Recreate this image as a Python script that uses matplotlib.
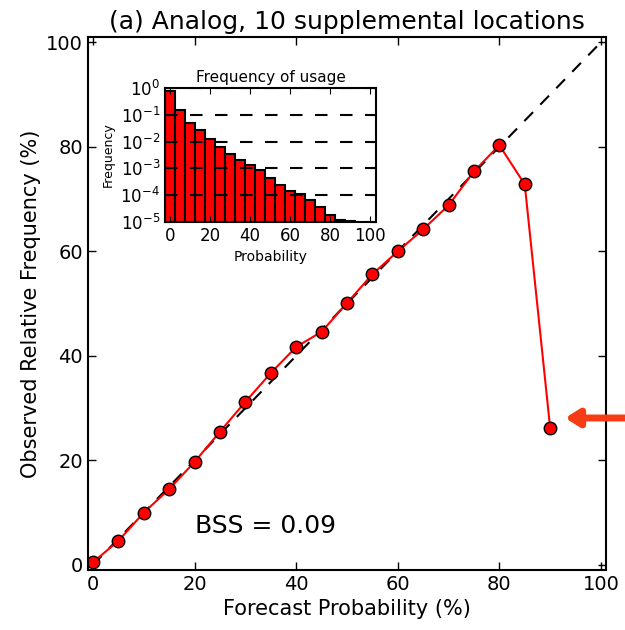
import matplotlib

matplotlib.use("Agg")

import matplotlib.pyplot as plt
import numpy as np

# reliability curve values
forecast_prob = [0, 5, 10, 15, 20, 25, 30, 35, 40, 45, 50, 55, 60, 65, 70, 75, 80, 85, 90]
observed_freq = [0.5, 4.6, 10.0, 14.5, 19.7, 25.5, 31.2, 36.7, 41.7, 44.6, 50.1,
                 55.6, 60.0, 64.2, 68.8, 75.3, 80.3, 72.8, 26.2]

# usage histogram
bin_centers = [0, 5, 10, 15, 20, 25, 30, 35, 40, 45, 50, 55, 60, 65, 70, 75, 80, 85, 90, 95]
usage_freq = [0.79, 0.15, 0.05, 0.027, 0.012, 0.0063, 0.0034, 0.0021, 0.0013, 0.00084,
              0.00042, 0.00024, 0.00014, 0.000106, 6.3e-5, 3.5e-5, 1.7e-5, 1.1e-5,
              1.03e-5, 0]

bss_text = "BSS = 0.09"

plt.rcParams["font.family"] = "DejaVu Sans"
plt.rcParams["xtick.direction"] = "in"
plt.rcParams["ytick.direction"] = "in"
plt.rcParams["xtick.top"] = True
plt.rcParams["ytick.right"] = True

fig = plt.figure(figsize=(6.25, 6.3), dpi=100)
ax = fig.add_axes([0.1408, 0.0952, 0.8288, 0.846])
ax.plot([0, 100], [0, 100], "k--", lw=1.5, dashes=(6, 5))
ax.plot(forecast_prob, observed_freq, "-", color="red", lw=1.5,
        marker="o", markersize=9, markerfacecolor="red", markeredgecolor="black",
        markeredgewidth=1)
ax.set_xlim(-1, 101)
ax.set_ylim(-1, 101)
ax.set_xticks([0, 20, 40, 60, 80, 100])
ax.set_yticks([0, 20, 40, 60, 80, 100])
ax.tick_params(labelsize=14, length=6, width=1)
for s in ax.spines.values():
    s.set_linewidth(1.5)
ax.set_xlabel("Forecast Probability (%)", fontsize=15)
ax.set_ylabel("Observed Relative Frequency (%)", fontsize=15)
ax.set_title("(a) Analog, 10 supplemental locations", fontsize=18, pad=6)
ax.text(20, 6, bss_text, fontsize=18)

# arrow pointing to the last point
ax.annotate("", xy=(565 / 625, 1 - 418 / 630), xycoords="figure fraction",
            xytext=(628 / 625, 1 - 418 / 630), textcoords="figure fraction",
            arrowprops=dict(arrowstyle="-|>,head_length=0.8,head_width=0.5",
                            color="#f53c14", lw=5, shrinkA=0, shrinkB=0),
            annotation_clip=False)

# inset histogram
ins = fig.add_axes([0.264, 0.6476, 0.3376, 0.2127])
ins.bar(bin_centers, usage_freq, width=5, color="red", edgecolor="black", lw=1.5,
        bottom=1e-6, zorder=1)
ins.set_yscale("log")
ins.set_ylim(1e-5, 1)
ins.set_xlim(-2.5, 103)
ins.set_xticks([0, 20, 40, 60, 80, 100])
ins.set_yticks([1e-5, 1e-4, 1e-3, 1e-2, 1e-1, 1e0])
ins.yaxis.grid(True, which="major", color="black", linestyle="--", dashes=(6, 6), lw=1.5)
ins.set_axisbelow(False)
ins.tick_params(labelsize=12, length=4)
ins.tick_params(which="minor", length=2)
for s in ins.spines.values():
    s.set_linewidth(1.5)
ins.set_title("Frequency of usage", fontsize=11, pad=4)
ins.set_xlabel("Probability", fontsize=10)
ins.set_ylabel("Frequency", fontsize=9)

fig.savefig("out.png", dpi=100)
